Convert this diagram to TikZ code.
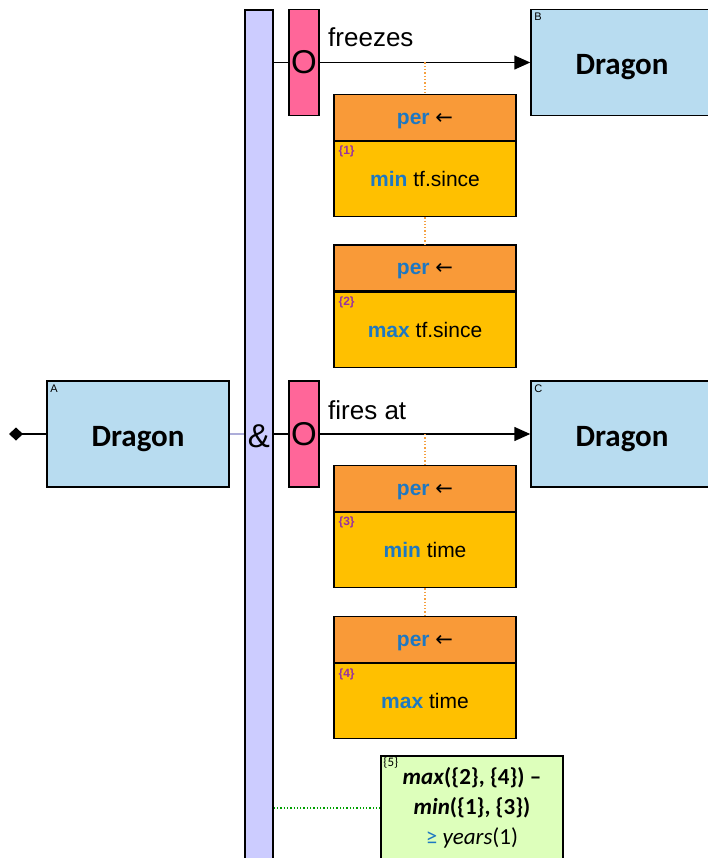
\documentclass[tikz,border=0pt]{standalone}
\usepackage{fontspec}
\setmainfont{Liberation Sans}
\newfontfamily\calibri{Carlito}
\newfontfamily\arrowfont{DejaVu Sans}
\usetikzlibrary{arrows.meta,positioning}
\definecolor{entity}{HTML}{B8DCF0}
\definecolor{andfill}{HTML}{CCCCFF}
\definecolor{orfill}{HTML}{FF6699}
\definecolor{perhead}{HTML}{F99A38}
\definecolor{perbody}{HTML}{FFC000}
\definecolor{rulefill}{HTML}{DDFFBB}
\definecolor{keyword}{HTML}{1E78C2}
\definecolor{refnum}{HTML}{9933A0}
\definecolor{dotline}{HTML}{F5A040}
\definecolor{ruleline}{HTML}{00A000}
\newcommand{\fsz}[1]{\fontsize{#1}{#1}\selectfont}

\begin{document}
\begin{tikzpicture}[x=1pt,y=-1pt,
  entitybox/.style={draw,fill=entity,line width=1.5pt,minimum width=182,minimum height=106,inner sep=0,text height=25pt,text depth=0pt,font=\calibri\bfseries\fsz{31}},
  tag/.style={font=\fsz{11},inner sep=0,anchor=north west},
  orbar/.style={draw,fill=orfill,line width=1.5pt,minimum width=30,minimum height=106,inner sep=0,font=\fsz{33}},
  headbox/.style={draw,fill=perhead,line width=1.2pt,minimum width=182,minimum height=46,inner sep=0,text height=14pt,text depth=0pt,font=\fsz{21}},
  bodybox/.style={draw,fill=perbody,line width=1.2pt,minimum width=182,minimum height=75,inner sep=0,font=\fsz{21}},
  refno/.style={font=\bfseries\fsz{12},text=refnum,inner sep=0,anchor=north west},
  link/.style={line width=1.5pt},
  rellabel/.style={font=\fsz{26},inner sep=0,anchor=base west},
]
  \useasboundingbox (0,0) rectangle (708,858);

  % The and bar
  \node[draw,fill=andfill,line width=1.5pt,minimum width=28,minimum height=860,inner sep=0] (and) at (259,440) {};
  \node[font=\fsz{33},inner sep=0] (amp) at (259,436) {\&};

  % Entities
  \node[entitybox] (dragA) at (138,434) {Dragon};
  \node[entitybox] (dragB) at (622,62.5) {Dragon};
  \node[entitybox] (dragC) at (622,434) {Dragon};
  \node[tag] at ([shift={(4,4)}]dragA.north west) {A};
  \node[tag] at ([shift={(4,4)}]dragB.north west) {B};
  \node[tag] at ([shift={(4,4)}]dragC.north west) {C};

  % Or bars
  \node[orbar] (or1) at (304,62.5) {O};
  \node[orbar] (or2) at (304,434) {O};

  % Connectors
  \coordinate (start) at (9,434);
  \draw[link,{Diamond[length=14pt,width=13pt]}-] (start) -- (dragA);
  \draw[andfill!85!black,line width=1.5pt] (dragA.east) -- (dragA.east -| and.west);
  \draw[link] (or1.west -| and.east) -- (or1.west);
  \draw[link] (or2.west -| and.east) -- (or2.west);
  \draw[link,-{Triangle[length=16pt,width=14pt]}] (or1.east) -- (dragB.west);
  \draw[link,-{Triangle[length=16pt,width=14pt]}] (or2.east) -- (dragC.west);
  \node[rellabel] at (328,47) {freezes};
  \node[rellabel] at (328,419) {fires at};

  % Per constraints
  \foreach \i/\y/\fn/\attr in {1/117.5/min/tf.since, 2/268/max/tf.since, 3/488.5/min/time, 4/639.5/max/time} {
    \node[headbox] (hd\i) at (425,\y) {\textbf{\textcolor{keyword}{per}} {\arrowfont\fsz{21}←}};
    \node[bodybox,below=0pt of hd\i] (bd\i) {\textbf{\textcolor{keyword}{\fn}} \attr};
    \node[refno] at ([shift={(5,5)}]bd\i.north west) {\{\i\}};
  }
  \draw[dotline,dotted,line width=1.3pt] (hd1.north |- or1.east) -- (hd1.north);
  \draw[dotline,dotted,line width=1.3pt] (bd1.south) -- (hd2.north);
  \draw[dotline,dotted,line width=1.3pt] (hd3.north |- or2.east) -- (hd3.north);
  \draw[dotline,dotted,line width=1.3pt] (bd3.south) -- (hd4.north);

  % Rule
  \node[draw,fill=rulefill,line width=1.5pt,minimum width=182,minimum height=104,inner sep=0,align=center,font=\calibri\fsz{23},execute at begin node=\setlength{\baselineskip}{30pt}] (rule) at (472,808)
    {\textbf{\textit{max}(\{2\}, \{4\}) –}\\ \textbf{\textit{min}(\{1\}, \{3\})}\\ \textcolor{keyword}{≥} \textit{years}(1)};
  \node[font=\calibri\fsz{13},inner sep=0,anchor=north west] at ([shift={(3,2)}]rule.north west) {\{5\}};
  \draw[ruleline,dotted,line width=1.3pt] (rule.west -| and.east) -- (rule.west);
\end{tikzpicture}
\end{document}
